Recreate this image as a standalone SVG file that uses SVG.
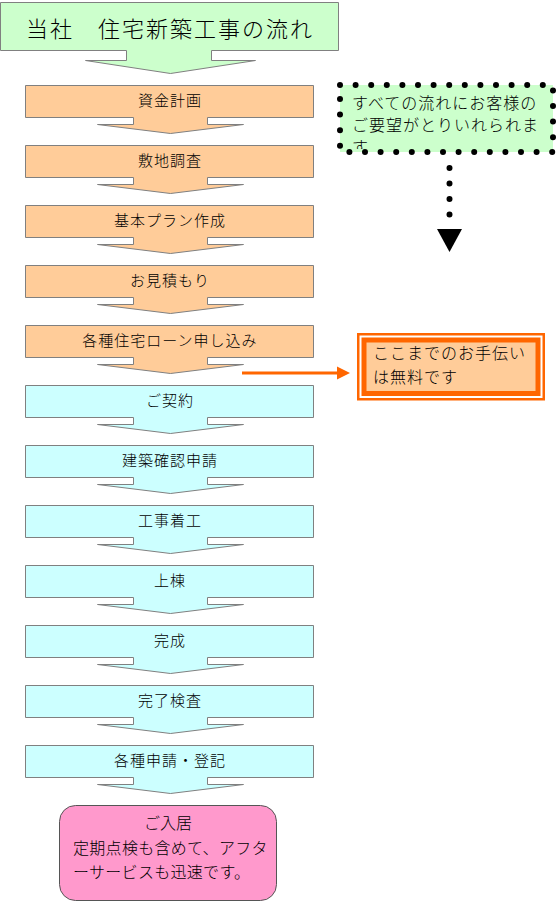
<svg xmlns="http://www.w3.org/2000/svg" width="559" height="903" viewBox="0 0 559 903">
<style>
text{font-family:"Noto Sans CJK JP","Noto Sans",sans-serif;fill:#000;font-weight:300}
.step{font-size:15px;letter-spacing:1px;text-anchor:middle}
.ar{stroke:#808080;stroke-width:1}
.o{fill:#FFCC99}
.c{fill:#CCFFFF}
.t16{font-size:16px;letter-spacing:1px}
</style>
<defs>
<path id="arr" d="M25.5,0.5 H313.5 V32.5 H207.5 V39.5 H243.5 L170.5,48.5 L97.5,39.5 H133.5 V32.5 H25.5 Z"/>
<clipPath id="clipNote"><rect x="340" y="85" width="213" height="64"/></clipPath>
</defs>
<g id="title">
<path d="M0.5,2.5 H338.5 V50.5 H211.5 V60.5 H255.5 L170.5,73.5 L85.5,60.5 H126.5 V50.5 H0.5 Z" fill="#CCFFCC" class="ar"/>
<text x="170" y="37" font-size="22" font-weight="400" letter-spacing="2" text-anchor="middle">当社　住宅新築工事の流れ</text>
</g>
<g id="step1"><use href="#arr" y="85" class="ar o"/><text class="step" x="170" y="106">資金計画</text></g>
<g id="step2"><use href="#arr" y="145" class="ar o"/><text class="step" x="170" y="166">敷地調査</text></g>
<g id="step3"><use href="#arr" y="205" class="ar o"/><text class="step" x="170" y="226">基本プラン作成</text></g>
<g id="step4"><use href="#arr" y="265" class="ar o"/><text class="step" x="170" y="286">お見積もり</text></g>
<g id="step5"><use href="#arr" y="325" class="ar o"/><text class="step" x="170" y="346">各種住宅ローン申し込み</text></g>
<g id="step6"><use href="#arr" y="385" class="ar c"/><text class="step" x="170" y="406">ご契約</text></g>
<g id="step7"><use href="#arr" y="445" class="ar c"/><text class="step" x="170" y="466">建築確認申請</text></g>
<g id="step8"><use href="#arr" y="505" class="ar c"/><text class="step" x="170" y="526">工事着工</text></g>
<g id="step9"><use href="#arr" y="565" class="ar c"/><text class="step" x="170" y="586">上棟</text></g>
<g id="step10"><use href="#arr" y="625" class="ar c"/><text class="step" x="170" y="646">完成</text></g>
<g id="step11"><use href="#arr" y="685" class="ar c"/><text class="step" x="170" y="706">完了検査</text></g>
<g id="step12"><use href="#arr" y="745" class="ar c"/><text class="step" x="170" y="766">各種申請・登記</text></g>
<g id="move-in">
<rect x="59.5" y="805.5" width="217" height="95" rx="16" fill="#FF99CC" stroke="#555" stroke-width="1"/>
<text x="168" y="829" font-size="16" text-anchor="middle">ご入居</text>
<text x="73" y="854" font-size="16" letter-spacing="0.3">定期点検も含めて、アフタ</text>
<text x="73" y="878" font-size="16" letter-spacing="0.3">ーサービスも迅速です。</text>
</g>
<g id="note">
<rect x="340" y="85" width="213" height="67" fill="#CCFFCC"/>
<g clip-path="url(#clipNote)">
<text class="t16" x="352" y="109">すべての流れにお客様の</text>
<text class="t16" x="352" y="131">ご要望がとりいれられま</text>
<text class="t16" x="352" y="153">す</text>
</g>
<rect x="340" y="85" width="213" height="67" fill="none" stroke="#000" stroke-width="6" stroke-linecap="round" stroke-dasharray="0 15.6"/>
</g>
<g id="free-note">
<rect x="358.25" y="334.25" width="185.5" height="65" fill="#fff" stroke="#FF6600" stroke-width="2.5"/>
<rect x="364" y="340" width="174" height="53.5" fill="#FFCC99" stroke="#FF6600" stroke-width="5"/>
<text class="t16" x="373" y="359">ここまでのお手伝い</text>
<text class="t16" x="373" y="383">は無料です</text>
</g>
<g id="connectors">
<line x1="449.5" y1="168" x2="449.5" y2="215" stroke="#000" stroke-width="6" stroke-linecap="round" stroke-dasharray="0 15.5"/>
<polygon points="437,229 462,229 449.5,252" fill="#000"/>
<line x1="242" y1="373" x2="339" y2="373" stroke="#FF6600" stroke-width="3"/>
<polygon points="337,366.5 350,373 337,379.5" fill="#FF6600"/>
</g>
</svg>
